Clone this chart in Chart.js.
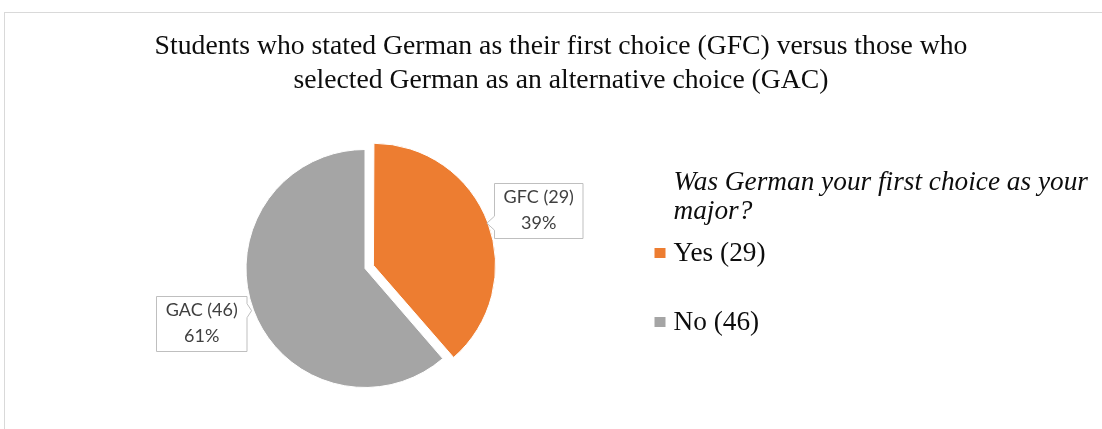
<!DOCTYPE html>
<html>
<head>
<meta charset="utf-8">
<script src="https://cdn.jsdelivr.net/npm/chart.js@4.4.1/dist/chart.umd.min.js"></script>
<style>
  html, body { margin: 0; padding: 0; background: #fff; overflow: hidden; }
  #frame { position: absolute; left: 4px; top: 12px; width: 1200px; height: 500px; border: 1px solid #d9d9d9; }
  #wrap { position: absolute; left: 0; top: 0; width: 1102px; height: 429px; }
</style>
</head>
<body>
<div id="frame"></div>
<div id="wrap"><canvas id="pie" width="1102" height="429"></canvas></div>
<script>
const categories = ["Yes", "No"];
const counts = [29, 46];
const sliceTags = ["GFC", "GAC"];
const colors = ["#ED7D31", "#A5A5A5"];
const titleLines = [
  "Students who stated German as their first choice (GFC) versus those who",
  "selected German as an alternative choice (GAC)",
];
const legendTitleLines = ["Was German your first choice as your", "major?"];

const total = counts.reduce((a, b) => a + b, 0);

// title, legend and the Excel-style callout boxes
const annotate = {
  id: "annotate",
  afterDraw(chart) {
    const ctx = chart.ctx;
    const area = chart.chartArea;
    ctx.save();

    ctx.fillStyle = "#0d0d0d";
    ctx.font = "27.7px 'Liberation Serif'";
    ctx.textAlign = "center";
    ctx.textBaseline = "alphabetic";
    titleLines.forEach((t, i) => ctx.fillText(t, 561, 54 + i * 34));

    const lx = area.right + 152;
    ctx.textAlign = "left";
    ctx.font = "italic 27.3px 'Liberation Serif'";
    legendTitleLines.forEach((t, i) => ctx.fillText(t, lx + 19, 190 + i * 29));
    ctx.font = "27.3px 'Liberation Serif'";
    categories.forEach((c, i) => {
      const y = 261 + i * 69;
      ctx.fillStyle = colors[i];
      ctx.fillRect(lx, y - 13, 11, 10);
      ctx.fillStyle = "#0d0d0d";
      ctx.fillText(`${c} (${counts[i]})`, lx + 19, y);
    });

    const meta = chart.getDatasetMeta(0);
    ctx.font = "18px Lato";
    meta.data.forEach((arc, i) => {
      const mid = (arc.startAngle + arc.endAngle) / 2;
      const shift = (arc.options.offset || 0) / 4;
      const r = arc.outerRadius + shift + 2;
      const tx = arc.x + Math.cos(mid) * r;
      const ty = arc.y + Math.sin(mid) * r;
      const lines = [`${sliceTags[i]} (${counts[i]})`, `${Math.round(counts[i] / total * 100)}%`];
      const w = Math.max(...lines.map((l) => ctx.measureText(l).width)) + 18;
      const h = 55;
      const cy = ty + 36 * Math.sin(mid);
      const right = Math.cos(mid) >= 0;
      const L = Math.round(right ? tx + 7 : tx - 6 - w) + 0.5;
      const R = Math.round(L + w);
      const T = Math.round(cy - h / 2) + 0.5;
      const B = T + h;
      const ny = Math.max(T + 8, Math.min(B - 8, ty));
      ctx.beginPath();
      if (right) {
        ctx.moveTo(L, T); ctx.lineTo(R, T); ctx.lineTo(R, B); ctx.lineTo(L, B);
        ctx.lineTo(L, ny + 7); ctx.lineTo(tx, ty); ctx.lineTo(L, ny - 7);
      } else {
        ctx.moveTo(R, T); ctx.lineTo(L, T); ctx.lineTo(L, B); ctx.lineTo(R, B);
        ctx.lineTo(R, ny + 7); ctx.lineTo(tx, ty); ctx.lineTo(R, ny - 7);
      }
      ctx.closePath();
      ctx.fillStyle = "#fff";
      ctx.fill();
      ctx.strokeStyle = "#bfbfbf";
      ctx.lineWidth = 1;
      ctx.stroke();
      ctx.fillStyle = "#404040";
      ctx.textAlign = "center";
      ctx.textBaseline = "middle";
      lines.forEach((l, k) => ctx.fillText(l, (L + R) / 2, cy - 13 + k * 26));
    });
    ctx.restore();
  },
};

new Chart(document.getElementById("pie"), {
  type: "pie",
  data: {
    labels: categories,
    datasets: [{
      data: counts,
      backgroundColor: colors,
      borderColor: "#fff",
      borderWidth: 1,
      offset: [36, 0],
      hoverOffset: 0,
    }],
  },
  options: {
    responsive: false,
    animation: false,
    events: [],
    layout: { padding: { left: 227.5, right: 599.5, top: 131, bottom: 23 } },
    plugins: {
      legend: { display: false },
      title: { display: false },
      tooltip: { enabled: false },
    },
  },
  plugins: [annotate],
});
</script>
</body>
</html>
